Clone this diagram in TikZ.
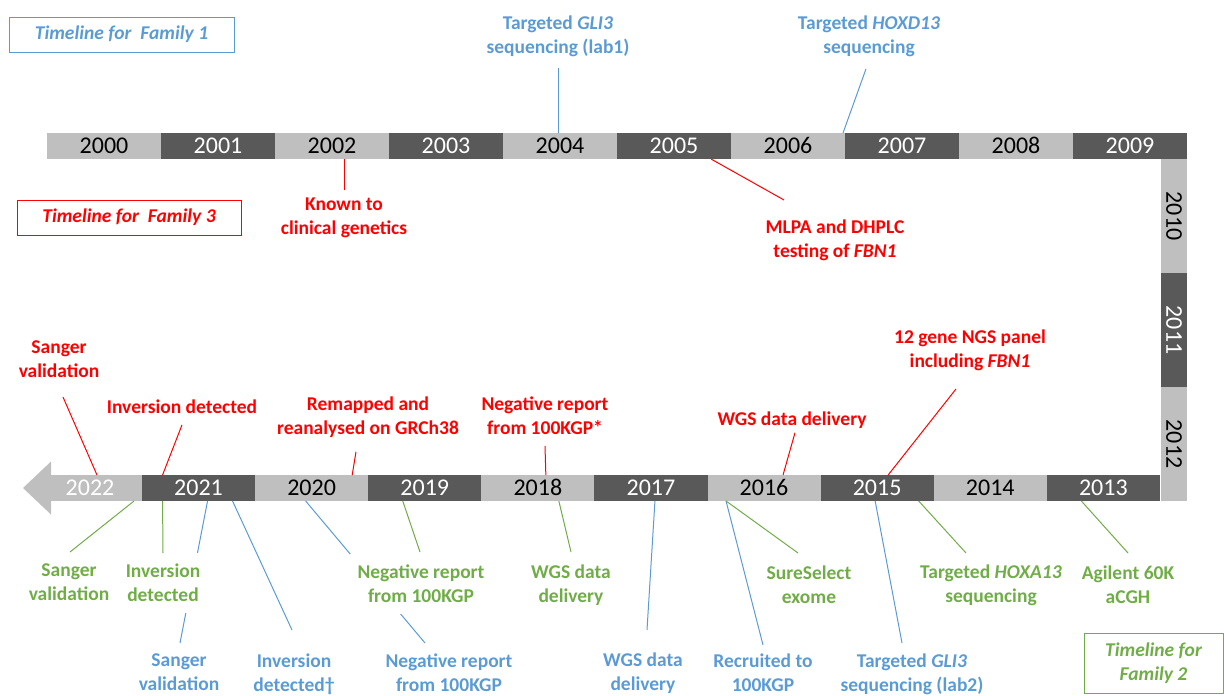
\documentclass[tikz,border=0pt]{standalone}
\usepackage{fontspec}
\setmainfont{Carlito}
\usepackage{xcolor}
\usepackage{tikz}
\usetikzlibrary{positioning}
\definecolor{barlight}{RGB}{191,191,191}
\definecolor{bardark}{RGB}{89,89,89}
\definecolor{famred}{RGB}{255,0,0}
\definecolor{famblue}{RGB}{91,155,213}
\definecolor{famgreen}{RGB}{112,173,71}

\begin{document}
\begin{tikzpicture}[
    x=1pt, y=-1pt,
    yr/.style={
      rectangle,
      inner sep=0pt,
      outer sep=0pt,
      minimum width=114pt,
      minimum height=26pt,
      text height=15.5pt,
      text depth=0pt,
      font=\fontsize{24}{28}\selectfont
    },
    lightyr/.style={yr, fill=barlight, text=black},
    darkyr/.style={yr, fill=bardark, text=white},
    bot/.style={minimum width=113.1pt},
    lbl/.style={
      align=center,
      inner sep=0pt,
      anchor=north,
      font=\fontsize{19.5}{24}\selectfont\bfseries
    },
    fambox/.style={
      draw,
      line width=1pt,
      align=center,
      font=\fontsize{19.5}{24}\selectfont\bfseries\itshape
    },
    link/.style={line width=1pt},
    redlink/.style={link, draw=famred},
    bluelink/.style={link, draw=famblue},
    greenlink/.style={link, draw=famgreen},
]
    \useasboundingbox (0,0) rectangle (1224,696);

    \node [lightyr, anchor=north west] (y2000) at (47,133) {2000};
    \node [darkyr, right=0pt of y2000] (y2001) {2001};
    \node [lightyr, right=0pt of y2001] (y2002) {2002};
    \node [darkyr, right=0pt of y2002] (y2003) {2003};
    \node [lightyr, right=0pt of y2003] (y2004) {2004};
    \node [darkyr, right=0pt of y2004] (y2005) {2005};
    \node [lightyr, right=0pt of y2005] (y2006) {2006};
    \node [darkyr, right=0pt of y2006] (y2007) {2007};
    \node [lightyr, right=0pt of y2007] (y2008) {2008};
    \node [darkyr, right=0pt of y2008] (y2009) {2009};

    \node [darkyr, bot, anchor=north west] (y2021) at (142,475) {2021};
    \node [lightyr, bot, right=0pt of y2021] (y2020) {2020};
    \node [darkyr, bot, right=0pt of y2020] (y2019) {2019};
    \node [lightyr, bot, right=0pt of y2019] (y2018) {2018};
    \node [darkyr, bot, right=0pt of y2018] (y2017) {2017};
    \node [lightyr, bot, right=0pt of y2017] (y2016) {2016};
    \node [darkyr, bot, right=0pt of y2016] (y2015) {2015};
    \node [lightyr, bot, right=0pt of y2015] (y2014) {2014};
    \node [darkyr, bot, right=0pt of y2014] (y2013) {2013};
    \node [lightyr, minimum width=104pt, text=white, left=0pt of y2021] (y2022) {2022};
    \fill [barlight] ([xshift=13pt, yshift=26.5pt]y2022.west) -- ([xshift=-15pt]y2022.west)
        -- ([xshift=13pt, yshift=-26.5pt]y2022.west) -- cycle;

    \node [lightyr, rotate=-90] (y2010) at (1174,216) {2010};
    \node [darkyr, rotate=-90] (y2011) at (1174,330) {2011};
    \node [lightyr, rotate=-90] (y2012) at (1174,444) {2012};

    \node [fambox, draw=famblue, text=famblue, minimum width=225pt, minimum height=35pt] (fam1) at (121.5,34.5) {Timeline for~ Family 1};
    \node [fambox, draw=famred, text=famred, minimum width=224pt, minimum height=35pt] (fam3) at (129,217.5) {Timeline for~ Family 3};
    \node [fambox, draw=famgreen, text=famgreen, minimum width=139pt, minimum height=60pt] (fam2) at (1153.5,663) {Timeline for\\Family 2};

    \node [lbl, text=famblue] (gli1) at (558,16) {Targeted \textit{GLI3}\\sequencing (lab1)};
    \node [lbl, text=famblue] (hoxd) at (869,16) {Targeted \textit{HOXD13}\\sequencing};
    \node [lbl, text=famblue] (sangb) at (179,654) {Sanger\\validation};
    \node [lbl, text=famblue] (invb) at (294,654) {Inversion\\detected\textdagger};
    \node [lbl, text=famblue] (negb) at (449,654) {Negative report\\from 100KGP};
    \node [lbl, text=famblue] (wgsb) at (643,653) {WGS data\\delivery};
    \node [lbl, text=famblue] (recr) at (763,654) {Recruited to\\100KGP};
    \node [lbl, text=famblue] (gli2) at (912,654) {Targeted \textit{GLI3}\\sequencing (lab2)};

    \draw [bluelink] ([xshift=-2pt]y2004.north) -- ([yshift=-11pt]gli1.south);
    \draw [bluelink] ([xshift=-2pt]y2007.north west) -- ([xshift=-3pt, yshift=-11.5pt]hoxd.south);
    \draw [bluelink] ([xshift=9pt]y2021.south) -- ([xshift=1pt, yshift=11pt]sangb.north);
    \draw [bluelink] ([xshift=34pt]y2021.south) -- ([xshift=-2pt, yshift=24pt]invb.north);
    \draw [bluelink] ([xshift=-6pt]y2020.south) -- ([xshift=-24pt, yshift=11pt]negb.north);
    \draw [bluelink] ([xshift=4pt]y2017.south) -- ([xshift=4pt, yshift=23pt]wgsb.north);
    \draw [bluelink] ([xshift=-38pt]y2016.south) -- ([yshift=9pt]recr.north);
    \draw [bluelink] ([xshift=-2pt]y2015.south) -- ([xshift=-10pt, yshift=11pt]gli2.north);

    \node [lbl, text=famgreen] (sangg) at (69,564) {Sanger\\validation};
    \node [lbl, text=famgreen, fill=white, inner xsep=2pt, inner ysep=11pt] (invg) at (163,553) {Inversion\\detected};
    \node [lbl, text=famgreen, fill=white, inner xsep=8pt, inner ysep=11pt] (negg) at (421,554) {Negative report\\from 100KGP};
    \node [lbl, text=famgreen] (wgsg) at (571,565) {WGS data\\delivery};
    \node [lbl, text=famgreen] (sure) at (809,566) {SureSelect\\exome};
    \node [lbl, text=famgreen] (hoxa) at (991,565) {Targeted \textit{HOXA13}\\sequencing};
    \node [lbl, text=famgreen] (agil) at (1128,566) {Agilent 60K\\aCGH};

    \draw [greenlink] ([xshift=-8pt]y2021.south west) -- ([xshift=1pt, yshift=12pt]sangg.north);
    \draw [greenlink] ([xshift=-36pt]y2021.south) -- (invg.north);
    \draw [greenlink] ([xshift=-22pt]y2019.south) -- ([xshift=-1pt, yshift=2pt]negg.north);
    \draw [greenlink] ([xshift=21pt]y2018.south) -- ([yshift=13pt]wgsg.north);
    \draw [greenlink] ([xshift=-38pt]y2016.south) -- ([xshift=-11pt, yshift=13pt]sure.north);
    \draw [greenlink] ([xshift=-15pt]y2014.south west) -- ([xshift=-25pt, yshift=12pt]hoxa.north);
    \draw [greenlink] ([xshift=-22pt]y2013.south) -- ([yshift=13pt]agil.north);

    \node [lbl, text=famred] (known) at (344,198) {Known to\\clinical genetics};
    \node [lbl, text=famred] (mlpa) at (835,220) {MLPA and DHPLC\\testing of \textit{FBN1}};
    \node [lbl, text=famred] (sangr) at (59,341) {Sanger\\validation};
    \node [lbl, text=famred] (invr) at (182,400) {Inversion detected};
    \node [lbl, text=famred] (remap) at (368,397) {Remapped and\\reanalysed on GRCh38};
    \node [lbl, text=famred] (negr) at (545,397) {Negative report\\from 100KGP*};
    \node [lbl, text=famred] (wgsr) at (792,412) {WGS data delivery};
    \node [lbl, text=famred] (ngs) at (970,330) {12 gene NGS panel\\including \textit{FBN1}};

    \draw [redlink] ([xshift=12pt]y2002.south) -- ([yshift=8pt]known.north);
    \draw [redlink] ([xshift=37pt]y2005.south) -- ([xshift=-51pt, yshift=20pt]mlpa.north);
    \draw [redlink] ([xshift=7pt]y2022.north) -- ([xshift=4pt, yshift=-18.7pt]sangr.south);
    \draw [redlink] ([xshift=-36pt]y2021.north) -- ([yshift=-10.7pt]invr.south);
    \draw [redlink] ([xshift=-16pt]y2020.north east) -- ([xshift=-12pt, yshift=-13.6pt]remap.south);
    \draw [redlink] ([xshift=8pt]y2018.north) -- ([yshift=-10.7pt]negr.south);
    \draw [redlink] ([xshift=19pt]y2016.north) -- ([xshift=3pt, yshift=-3.6pt]wgsr.south);
    \draw [redlink] ([xshift=11pt]y2015.north) -- ([xshift=-14pt, yshift=-17.6pt]ngs.south);

\end{tikzpicture}
\end{document}
